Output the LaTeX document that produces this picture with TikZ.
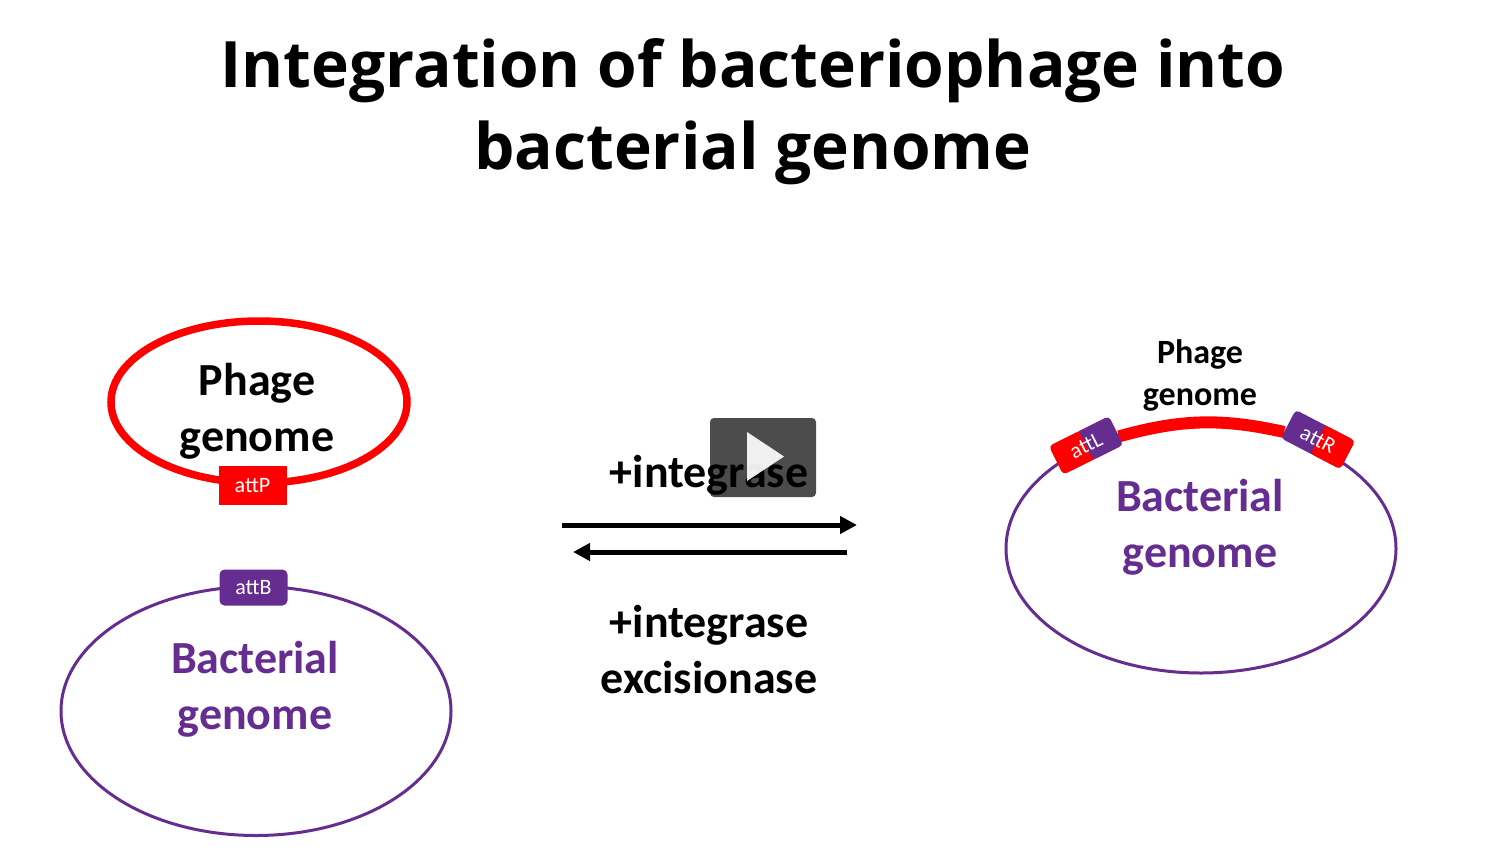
\documentclass[tikz,border=0pt]{standalone}
\usepackage{fontspec}
\setmainfont{Carlito}
\newfontfamily\titlefont{Open Sans}
\usepackage{xcolor}
\usetikzlibrary{shapes.geometric, arrows.meta, positioning, backgrounds}
\definecolor{phagered}{RGB}{255, 0, 0}
\definecolor{bactpurple}{RGB}{102, 45, 145}

\begin{document}
\begin{tikzpicture}[
    x=1pt, y=-1pt,
    heading/.style={font=\titlefont\fontsize{64}{82}\selectfont\bfseries, align=center, text=black},
    biglabel/.style={font=\fontsize{46}{56}\selectfont\bfseries, align=center, inner sep=0pt},
    smalllabel/.style={font=\fontsize{34}{42}\selectfont\bfseries, align=center, inner sep=0pt},
    genome/.style={ellipse, draw=bactpurple, line width=3pt, minimum width=390pt, minimum height=249pt, inner sep=0pt},
    phagering/.style={ellipse, draw=phagered, line width=7.5pt, minimum width=296pt, minimum height=162pt, inner sep=0pt},
    sitetext/.style={font=\fontsize{22}{24}\selectfont, text=white, inner sep=0pt},
    site/.style={sitetext, minimum width=68pt, minimum height=36pt},
    splitsite/.style={rounded corners=4pt, minimum width=67pt, minimum height=32pt, inner sep=0pt, outer sep=0pt},
    arrow/.style={-{Triangle[length=17pt, width=17pt]}, line width=5pt, black},
    playbox/.style={fill=black, fill opacity=0.7, rounded corners=4pt, minimum width=106pt, minimum height=79pt, inner sep=0pt}
]
\useasboundingbox (0,0) rectangle (1507,863);

\node[heading] (title) at (753,112) {Integration of bacteriophage into\\bacterial genome};

% left side
\node[phagering] (phage) at (259,402) {};
\node[genome] (bactleft) at (256,711) {};
\node[site, fill=phagered, minimum height=39pt] (attP) at (252.5,485.5) {attP};
\node[site, fill=bactpurple, rounded corners=5pt] (attB) at (253.5,587.5) {attB};
\node[biglabel] (phagetext) at (257,411) {Phage\\genome};
\node[biglabel, text=bactpurple] (bacttextleft) at (255,689) {Bacterial\\genome};

% middle
\node[biglabel] (fwdtext) at (709,475) {+integrase};
\node[biglabel] (revtext) at (709,650) {+integrase\\excisionase};
\coordinate (fwdstart) at (562,525);
\coordinate (fwdend) at (857,525);
\coordinate (revstart) at (847,552);
\coordinate (revend) at (573,552);
\draw[arrow] (fwdstart) -- (fwdend);
\draw[arrow] (revstart) -- (revend);

% right side
\node[splitsite, rotate=26.5, fill=phagered] (attL) at (1086,445.5) {};
\fill[bactpurple, rounded corners=4pt] (attL.north) -- (attL.north east) -- (attL.south east) -- (attL.south) [sharp corners] -- cycle;
\node[sitetext, rotate=26.5] (attLtext) at (attL) {attL};
\node[splitsite, rotate=-27.5, fill=bactpurple] (attR) at (1318,439.5) {};
\fill[phagered, rounded corners=4pt] (attR.north) -- (attR.north east) -- (attR.south east) -- (attR.south) [sharp corners] -- cycle;
\node[sitetext, rotate=-27.5] (attRtext) at (attR) {attR};
\begin{scope}[on background layer]
\node[genome] (bactright) at (1201,548.5) {};
\draw[phagered, line width=12pt] (attL) to[bend left=14] (attR);
\end{scope}
\node[smalllabel] (phagetop) at (1200,375) {Phage\\genome};
\node[biglabel, text=bactpurple] (bacttextright) at (1200,527) {Bacterial\\genome};

% player button
\node[playbox] (play) at (763,457.5) {};
\fill[white, fill opacity=0.92] (747,432) -- (784,456.5) -- (747,481) -- cycle;
\end{tikzpicture}
\end{document}
